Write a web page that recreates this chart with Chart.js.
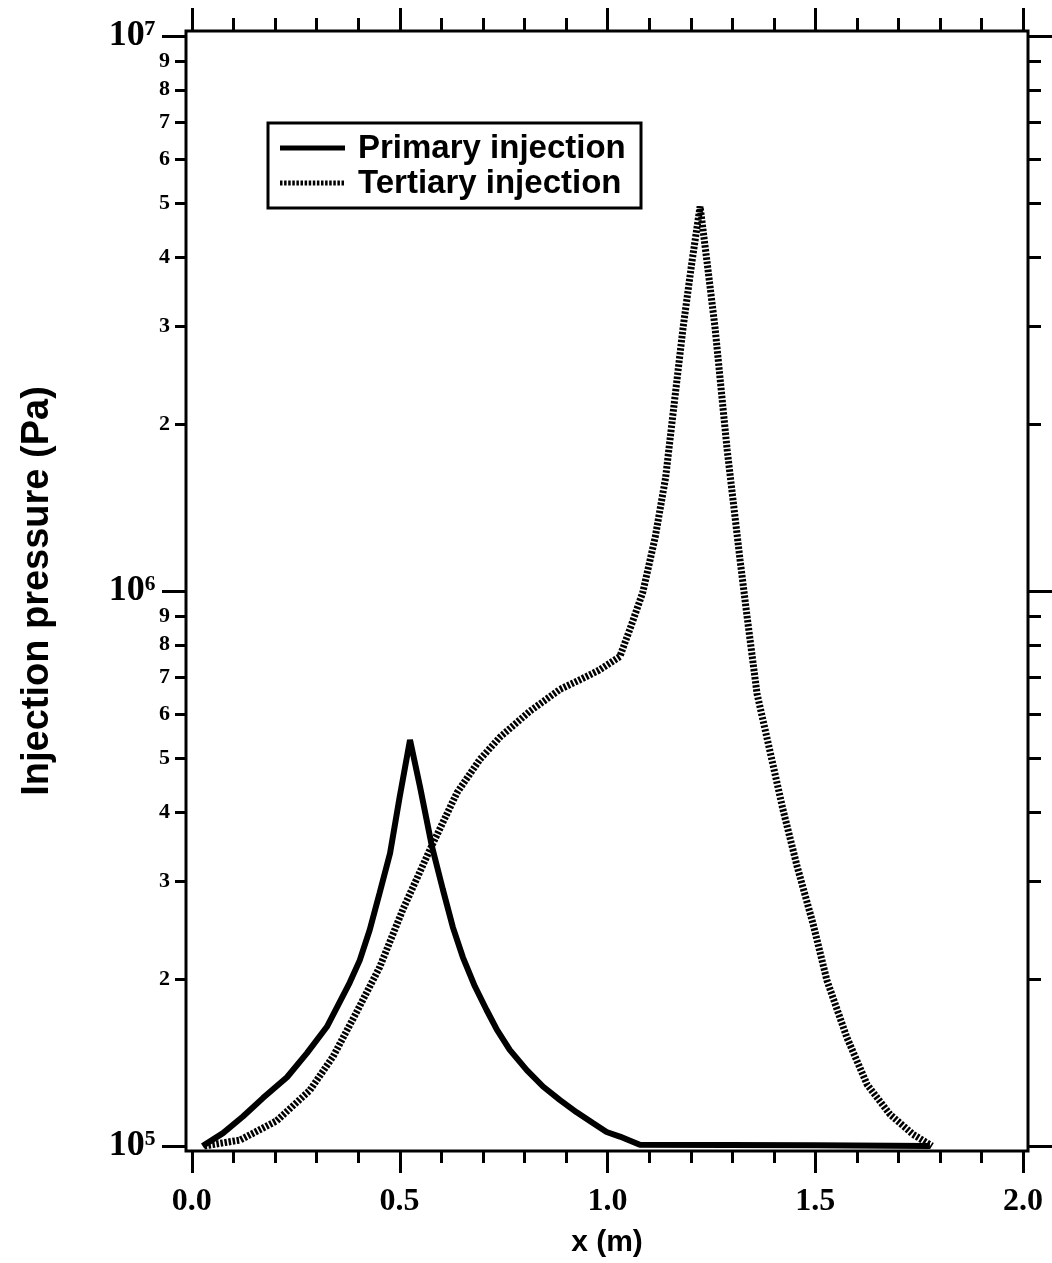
<!DOCTYPE html>
<html>
<head>
<meta charset="utf-8">
<script src="https://cdn.jsdelivr.net/npm/chart.js@4/dist/chart.umd.min.js"></script>
<style>
  html, body { margin: 0; padding: 0; background: #fff; }
  #wrap { width: 1052px; height: 1263px; }
</style>
</head>
<body>
<div id="wrap"><canvas id="c" width="1052" height="1263"></canvas></div>
<script>
// ---- data ----
const seriesNames = ['Primary injection', 'Tertiary injection'];

const primaryX = [0.026, 0.075, 0.123, 0.171, 0.229, 0.277, 0.325, 0.380, 0.404, 0.428, 0.452, 0.477, 0.500, 0.525,
                  0.549, 0.578, 0.604, 0.628, 0.652, 0.681, 0.709, 0.734, 0.765, 0.806, 0.845, 0.886, 0.926,
                  0.965, 0.998, 1.030, 1.078, 1.500, 1.776];
const primaryY = [1.00e5, 1.055e5, 1.13e5, 1.22e5, 1.33e5, 1.47e5, 1.64e5, 1.97e5, 2.16e5, 2.45e5, 2.86e5, 3.37e5, 4.25e5, 5.39e5,
                  4.44e5, 3.46e5, 2.90e5, 2.48e5, 2.19e5, 1.94e5, 1.76e5, 1.62e5, 1.49e5, 1.37e5, 1.28e5, 1.21e5, 1.15e5,
                  1.10e5, 1.06e5, 1.04e5, 1.005e5, 1.003e5, 1.00e5];

const tertiaryX = [0.030, 0.116, 0.204, 0.284, 0.340, 0.396, 0.452, 0.508, 0.573, 0.638,
                   0.693, 0.741, 0.813, 0.886, 0.934, 0.980, 1.030, 1.054, 1.085, 1.115,
                   1.140, 1.155, 1.182, 1.203, 1.223, 1.240, 1.259, 1.288, 1.319, 1.336,
                   1.360, 1.391, 1.422, 1.456, 1.495, 1.528, 1.576, 1.625, 1.680, 1.735, 1.781];
const tertiaryY = [1.00e5, 1.025e5, 1.11e5, 1.26e5, 1.45e5, 1.74e5, 2.10e5, 2.67e5, 3.42e5, 4.33e5,
                   4.97e5, 5.45e5, 6.07e5, 6.65e5, 6.92e5, 7.20e5, 7.62e5, 8.53e5, 9.94e5, 1.25e6,
                   1.60e6, 2.00e6, 2.98e6, 3.90e6, 4.93e6, 3.90e6, 2.98e6, 1.80e6, 1.14e6, 9.00e5,
                   6.53e5, 5.15e5, 4.05e5, 3.20e5, 2.51e5, 1.99e5, 1.57e5, 1.29e5, 1.14e5, 1.05e5, 1.00e5];

const xTickValues = [0, 0.5, 1.0, 1.5, 2.0];
const xTickLabels = ['0.0', '0.5', '1.0', '1.5', '2.0'];
const xMinorStep = 0.1;
const yTickValues = [1e5, 2e5, 3e5, 4e5, 5e5, 6e5, 7e5, 8e5, 9e5,
                     1e6, 2e6, 3e6, 4e6, 5e6, 6e6, 7e6, 8e6, 9e6, 1e7];
const xTitle = 'x (m)';
const yTitle = 'Injection pressure (Pa)';

// ---- helpers ----
const SUP = {'0':'\u2070','1':'\u00B9','2':'\u00B2','3':'\u00B3','4':'\u2074','5':'\u2075','6':'\u2076','7':'\u2077','8':'\u2078','9':'\u2079'};
function isDecade(v) {
  const e = Math.round(Math.log10(v));
  return Math.abs(v - Math.pow(10, e)) < 1e-6 * v;
}
function yLabel(v) {
  if (isDecade(v)) {
    const e = String(Math.round(Math.log10(v)));
    return '10' + e.split('').map(c => SUP[c]).join('') + '\u2009\u2009';
  }
  const p = Math.floor(Math.log10(v) + 1e-9);
  return String(Math.round(v / Math.pow(10, p)));
}
const SERIF = '"Liberation Serif", "Times New Roman", serif';
const SANS = '"Liberation Sans", Arial, sans-serif';

// ---- plugin: frame, tick marks on four sides, legend ----
const framePlugin = {
  id: 'frame',
  afterDraw(chart) {
    const {ctx, chartArea: a, scales: {x, y}} = chart;
    ctx.save();
    ctx.strokeStyle = '#000';
    ctx.lineWidth = 3;
    ctx.lineCap = 'butt';
    ctx.strokeRect(a.left, a.top, a.right - a.left, a.bottom - a.top);

    const n = Math.round((xTickValues[xTickValues.length - 1] - xTickValues[0]) / xMinorStep);
    ctx.beginPath();
    for (let i = 0; i <= n; i++) {
      const v = xTickValues[0] + i * xMinorStep;
      const major = xTickValues.some(t => Math.abs(t - v) < 1e-9);
      const px = Math.round(x.getPixelForValue(v)) + 0.5;
      ctx.moveTo(px, a.bottom); ctx.lineTo(px, a.bottom + (major ? 22 : 12));
      ctx.moveTo(px, a.top); ctx.lineTo(px, a.top - (major ? 23 : 13));
    }
    yTickValues.forEach(v => {
      const major = isDecade(v);
      const py = Math.round(y.getPixelForValue(v)) + 0.5;
      ctx.moveTo(a.left, py); ctx.lineTo(a.left - (major ? 24 : 11), py);
      ctx.moveTo(a.right, py); ctx.lineTo(a.right + (major ? 24 : 13), py);
    });
    ctx.stroke();

    // legend
    const lx = a.left + 82, ly = a.top + 92, lw = 373, lh = 85;
    ctx.fillStyle = '#fff';
    ctx.fillRect(lx, ly, lw, lh);
    ctx.lineWidth = 3;
    ctx.strokeRect(lx, ly, lw, lh);
    const rows = [ly + 25, ly + 60];
    chart.data.datasets.forEach((ds, i) => {
      ctx.beginPath();
      ctx.lineWidth = 5;
      ctx.setLineDash(ds.borderDash || []);
      ctx.moveTo(lx + 12, rows[i]); ctx.lineTo(lx + 77, rows[i]);
      ctx.stroke();
      ctx.setLineDash([]);
      ctx.fillStyle = '#000';
      ctx.font = 'bold 33px ' + SANS;
      ctx.textBaseline = 'middle';
      ctx.textAlign = 'left';
      ctx.fillText(ds.label, lx + 90, rows[i] + 1);
    });
    ctx.restore();
  }
};

const toPts = (xs, ys) => xs.map((v, i) => ({x: v, y: ys[i]}));

new Chart(document.getElementById('c'), {
  type: 'line',
  data: {
    datasets: [
      { label: seriesNames[0], data: toPts(primaryX, primaryY),
        borderColor: '#000', borderWidth: 6, borderJoinStyle: 'bevel',
        pointRadius: 0, tension: 0, fill: false },
      { label: seriesNames[1], data: toPts(tertiaryX, tertiaryY),
        borderColor: '#000', borderWidth: 7, borderDash: [2.5, 1.6], borderCapStyle: 'butt',
        borderJoinStyle: 'bevel', pointRadius: 0, tension: 0, fill: false }
    ]
  },
  options: {
    responsive: false,
    animation: false,
    devicePixelRatio: 1,
    layout: { padding: { top: 31, right: 24, left: 0, bottom: 0 } },
    plugins: { legend: { display: false }, tooltip: { enabled: false } },
    scales: {
      x: {
        type: 'linear', position: 'bottom', min: -0.014, max: 2.012,
        afterBuildTicks: s => { s.ticks = xTickValues.map(v => ({value: v})); },
        afterFit: s => { s.height = 112; s.paddingLeft = 0; s.paddingRight = 0; },
        grid: { display: false, drawTicks: false },
        border: { display: false },
        ticks: {
          autoSkip: false, maxRotation: 0, padding: 32, color: '#000',
          font: { family: SERIF, size: 32, weight: 'bold' },
          callback: (v) => { const i = xTickValues.findIndex(t => Math.abs(t - v) < 1e-9); return i >= 0 ? xTickLabels[i] : ''; }
        },
        title: { display: true, text: xTitle, color: '#000',
                 font: { family: SANS, size: 30, weight: 'bold' }, padding: { top: 0, bottom: 2 } }
      },
      y: {
        type: 'logarithmic', position: 'left', min: 9.795e4, max: 1.0209e7,
        afterBuildTicks: s => { s.ticks = yTickValues.map(v => ({value: v, major: isDecade(v)})); },
        afterFit: s => { s.width = 186; s.paddingTop = 0; s.paddingBottom = 0; },
        grid: { display: false, drawTicks: false },
        border: { display: false },
        ticks: {
          autoSkip: false, padding: 16, color: '#000',
          font: (ctx) => (ctx.tick && isDecade(ctx.tick.value))
            ? { family: SERIF, size: 36, weight: 'bold' }
            : { family: SERIF, size: 22, weight: 'bold' },
          callback: (v) => yLabel(v)
        },
        title: { display: true, text: yTitle, color: '#000',
                 font: { family: SANS, size: 38, weight: 'bold' }, padding: { top: 15, bottom: 0 } }
      }
    }
  },
  plugins: [framePlugin]
});
</script>
</body>
</html>
